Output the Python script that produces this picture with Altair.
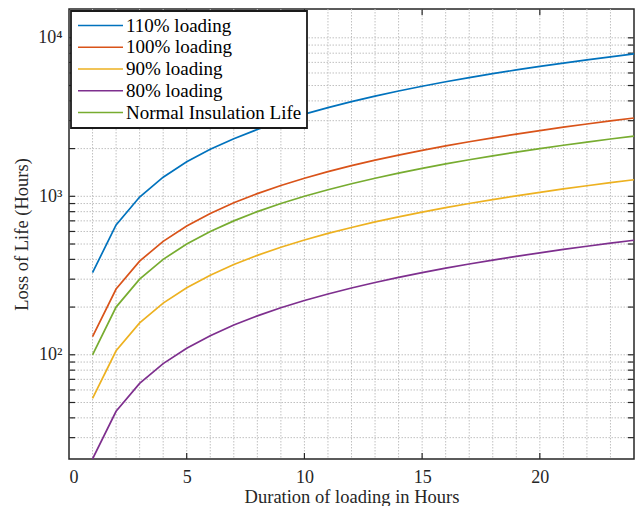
import altair as alt
import pandas as pd

hours = [1, 2, 3, 4, 5, 6, 7, 8, 9, 10, 11, 12, 13, 14, 15, 16, 17, 18, 19, 20, 21, 22, 23, 24]
loss_110 = [330, 660, 990, 1320, 1650, 1980, 2310, 2640, 2970, 3300, 3630, 3960,
            4290, 4620, 4950, 5280, 5610, 5940, 6270, 6600, 6930, 7260, 7590, 7920]
loss_100 = [130, 260, 390, 520, 650, 780, 910, 1040, 1170, 1300, 1430, 1560,
            1690, 1820, 1950, 2080, 2210, 2340, 2470, 2600, 2730, 2860, 2990, 3120]
loss_90 = [53, 106, 159, 212, 265, 318, 371, 424, 477, 530, 583, 636,
           689, 742, 795, 848, 901, 954, 1007, 1060, 1113, 1166, 1219, 1272]
loss_80 = [22, 44, 66, 88, 110, 132, 154, 176, 198, 220, 242, 264,
           286, 308, 330, 352, 374, 396, 418, 440, 462, 484, 506, 528]
loss_normal = [100, 200, 300, 400, 500, 600, 700, 800, 900, 1000, 1100, 1200,
               1300, 1400, 1500, 1600, 1700, 1800, 1900, 2000, 2100, 2200, 2300, 2400]

series_names = ["110% loading", "100% loading", "90% loading", "80% loading", "Normal Insulation Life"]
series_colors = ["#0072BD", "#D95319", "#EDB120", "#7E2F8E", "#77AC30"]
series_values = [loss_110, loss_100, loss_90, loss_80, loss_normal]

x_label_values = [0, 5, 10, 15, 20]
y_label_values = [100, 1000, 10000]
y_label_text = ["10²", "10³", "10⁴"]
x_grid_values = [1, 2, 3, 4, 5, 6, 7, 8, 9, 10, 11, 12, 13, 14, 15, 16, 17, 18, 19, 20, 21, 22, 23]
y_grid_values = [30, 40, 50, 60, 70, 80, 90,
                 100, 200, 300, 400, 500, 600, 700, 800, 900,
                 1000, 2000, 3000, 4000, 5000, 6000, 7000, 8000, 9000, 10000]

rows = []
for name, vals in zip(series_names, series_values):
    for h, v in zip(hours, vals):
        rows.append({"hours": h, "loss": v, "series": name})
df = pd.DataFrame(rows)

W, H = 565, 450
FONT = "Liberation Serif"
INK = "#262626"

xscale = alt.Scale(domain=[0, 24], nice=False, zero=False)
yscale = alt.Scale(type="log", domain=[22, 15200], nice=False)

label_expr = " : ".join(
    f"datum.value == {v} ? '{t}'" for v, t in zip(y_label_values, y_label_text)
) + " : ''"

xaxis = alt.Axis(values=x_label_values, title="Duration of loading in Hours",
                 grid=False, tickSize=0, domain=False, labelPadding=9, titlePadding=1)
yaxis = alt.Axis(values=y_label_values, labelExpr=label_expr,
                 title="Loss of Life (Hours)", grid=False, tickSize=0,
                 domain=False, labelPadding=7, titlePadding=6)

xgrid = alt.Chart(pd.DataFrame({"v": x_grid_values})).mark_rule(
    color="#c0c0c0", strokeWidth=1, strokeDash=[1.5, 1.5]
).encode(x=alt.X("v:Q", scale=xscale, axis=xaxis))

ygrid = alt.Chart(pd.DataFrame({"v": y_grid_values})).mark_rule(
    color="#c0c0c0", strokeWidth=1, strokeDash=[1.5, 1.5]
).encode(y=alt.Y("v:Q", scale=yscale, axis=yaxis))

xt = pd.DataFrame({"v": x_label_values[1:]})
xticks_bottom = alt.Chart(xt).mark_rule(color=INK, strokeWidth=1.2).encode(
    x=alt.X("v:Q", scale=xscale, axis=xaxis), y=alt.value(H), y2=alt.value(H - 6))
xticks_top = alt.Chart(xt).mark_rule(color=INK, strokeWidth=1.2).encode(
    x=alt.X("v:Q", scale=xscale, axis=xaxis), y=alt.value(0), y2=alt.value(6))
yt = pd.DataFrame({"v": y_grid_values})
yticks_left = alt.Chart(yt).mark_rule(color=INK, strokeWidth=1.2).encode(
    y=alt.Y("v:Q", scale=yscale, axis=yaxis), x=alt.value(0), x2=alt.value(6))
yticks_right = alt.Chart(yt).mark_rule(color=INK, strokeWidth=1.2).encode(
    y=alt.Y("v:Q", scale=yscale, axis=yaxis), x=alt.value(W), x2=alt.value(W - 6))

lines = alt.Chart(df).mark_line(strokeWidth=1.7, clip=True).encode(
    x=alt.X("hours:Q", scale=xscale, axis=xaxis),
    y=alt.Y("loss:Q", scale=yscale, axis=yaxis),
    color=alt.Color("series:N",
                    scale=alt.Scale(domain=series_names, range=series_colors),
                    legend=alt.Legend(orient="none", legendX=2, legendY=2, title=None,
                                      symbolType="M-1,0H5", symbolSize=225,
                                      symbolStrokeWidth=1.6, labelOffset=31,
                                      symbolOffset=0, padding=5, rowPadding=1.75,
                                      strokeColor="#1a1a1a", fillColor="white",
                                      labelFont=FONT, labelFontSize=19,
                                      labelColor="black", labelLimit=0)),
    detail="series:N",
)

chart = alt.layer(xgrid, ygrid, xticks_bottom, xticks_top, yticks_left, yticks_right, lines).properties(
    width=W, height=H,
    autosize=alt.AutoSizeParams(type="none"),
    padding={"left": 61, "top": 1, "right": 1, "bottom": 47},
).configure_view(
    stroke=INK, strokeWidth=1.5
).configure_axis(
    labelFont=FONT, titleFont=FONT, labelFontSize=18, titleFontSize=18.5,
    labelColor=INK, titleColor=INK, titleFontWeight="normal"
).configure_legend(
    strokeWidth=1.8
)

chart.save("out.html", embed_options={"renderer": "svg", "actions": False})
